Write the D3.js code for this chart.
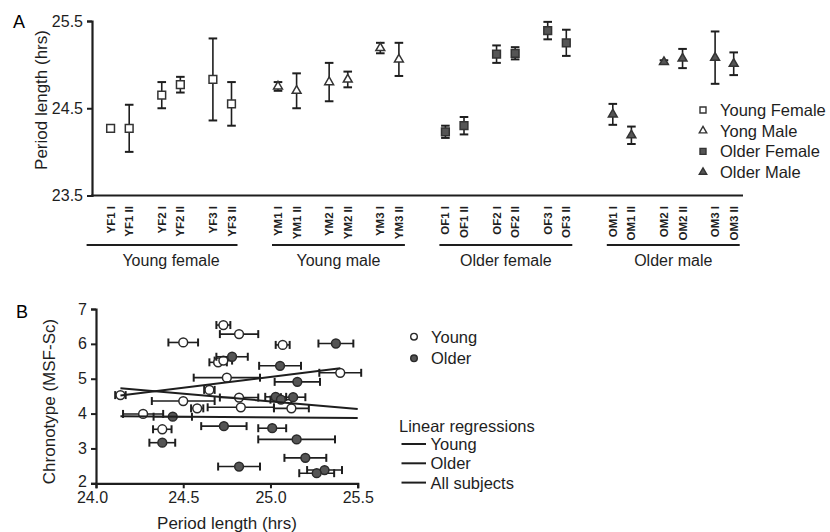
<!DOCTYPE html>
<html>
<head>
<meta charset="utf-8">
<script src="https://cdn.jsdelivr.net/npm/d3@7"></script>
<style>
  body { margin: 0; background: #fff; }
  svg { display: block; font-family: "Liberation Sans", Arial, sans-serif; }
</style>
</head>
<body>
<svg id="chart" width="830" height="532"></svg>
<script>
// ---- panel A data ----
var groups = ["Young female", "Young male", "Older female", "Older male"];
var conditions = [
  "YF1 I", "YF1 II", "YF2 I", "YF2 II", "YF3 I", "YF3 II",
  "YM1 I", "YM1 II", "YM2 I", "YM2 II", "YM3 I", "YM3 II",
  "OF1 I", "OF1 II", "OF2 I", "OF2 II", "OF3 I", "OF3 II",
  "OM1 I", "OM1 II", "OM2 I", "OM2 II", "OM3 I", "OM3 II"
];
var periodMean = [
  24.27, 24.27, 24.65, 24.77, 24.83, 24.55,
  24.75, 24.70, 24.80, 24.83, 25.19, 25.06,
  24.23, 24.30, 25.12, 25.13, 25.39, 25.25,
  24.43, 24.19, 25.03, 25.07, 25.08, 25.01
];
var periodErr = [
  0.01, 0.27, 0.15, 0.09, 0.47, 0.25,
  0.05, 0.20, 0.22, 0.09, 0.06, 0.19,
  0.07, 0.10, 0.10, 0.07, 0.10, 0.15,
  0.12, 0.10, 0.02, 0.11, 0.30, 0.13
];
var legendA = ["Young Female", "Yong Male", "Older Female", "Older Male"];
var yTicksA = [23.5, 24.5, 25.5];

// ---- panel B data ----
var youngPeriod = [24.73, 24.82, 24.50, 25.07, 24.70, 24.73, 25.40, 24.75, 24.65, 24.14, 24.50, 24.82, 24.58, 24.83, 25.12, 24.27, 24.38];
var youngPeriodErr = [0.04, 0.11, 0.085, 0.04, 0.05, 0.05, 0.12, 0.19, 0.03, 0.03, 0.18, 0.11, 0.035, 0.19, 0.10, 0.115, 0.053];
var youngChrono = [6.54, 6.28, 6.04, 5.97, 5.47, 5.52, 5.17, 5.03, 4.68, 4.53, 4.36, 4.46, 4.15, 4.18, 4.15, 3.99, 3.55];

var olderPeriod = [25.375, 24.78, 25.055, 25.154, 25.03, 25.13, 25.06, 24.44, 24.38, 24.733, 24.82, 25.01, 25.15, 25.20, 25.31, 25.265];
var olderPeriodErr = [0.10, 0.09, 0.12, 0.13, 0.06, 0.07, 0.06, 0.11, 0.074, 0.13, 0.12, 0.08, 0.22, 0.12, 0.10, 0.10];
var olderChrono = [6.01, 5.63, 5.37, 4.91, 4.48, 4.47, 4.40, 3.91, 3.165, 3.64, 2.48, 3.58, 3.26, 2.73, 2.38, 2.29];

var regYoungX = [24.14, 25.40], regYoungY = [4.52, 5.30];
var regOlderX = [24.14, 25.50], regOlderY = [4.73, 4.13];
var regAllX = [24.14, 25.50], regAllY = [3.92, 3.87];

var xTicksB = [24.0, 24.5, 25.0, 25.5];
var yTicksB = [2, 3, 4, 5, 6, 7];
var legendB = ["Young", "Older"];
var legendReg = ["Young", "Older", "All subjects"];

var ink = "#1e1e1e", fillDark = "#555";
var svg = d3.select("#chart");

function fmt1(d) { return d3.format(".1f")(d); }

// ================= panel A =================
var xA = d3.scaleLinear().domain([-1, 34]).range([92, 743]);
var yA = d3.scaleLinear().domain([23.5, 25.5]).range([195.5, 21]);

// slot position of a condition: group, pair, repeat
function slot(i) {
  var g = Math.floor(i / 6), p = Math.floor((i % 6) / 2), r = i % 2;
  return g * 9 + p * 2.75 + r;
}

var gA = svg.append("g");

gA.append("text").attr("x", 13).attr("y", 28).attr("font-size", 18).text("A");

// y axis
var yAxisA = d3.axisLeft(yA).tickValues(yTicksA).tickFormat(fmt1).tickSize(5).tickPadding(4);
var ya = gA.append("g").attr("transform", "translate(92,0)").call(yAxisA);
ya.select(".domain").attr("stroke", ink).attr("stroke-width", 2.2);
ya.selectAll(".tick line").attr("stroke", ink).attr("stroke-width", 2);
ya.selectAll(".tick text").attr("font-size", 16).attr("fill", ink).attr("font-family", null);

// x axis baseline
gA.append("line").attr("x1", 91).attr("x2", xA.range()[1]).attr("y1", 195.5).attr("y2", 195.5)
  .attr("stroke", ink).attr("stroke-width", 2.2);

gA.append("text")
  .attr("transform", "translate(47,100) rotate(-90)")
  .attr("text-anchor", "middle").attr("font-size", 17).attr("fill", ink)
  .text("Period length (hrs)");

// condition labels
gA.selectAll(".cond").data(conditions).enter().append("text")
  .attr("class", "cond")
  .attr("transform", function(d, i) { return "translate(" + (xA(slot(i)) + 4) + ",206) rotate(-90)"; })
  .attr("text-anchor", "end").attr("font-size", 11.5).attr("font-weight", "bold").attr("fill", ink)
  .text(function(d) { return d; });

// group underlines and names
groups.forEach(function(name, g) {
  var x0 = xA(slot(g * 6)), x1 = xA(slot(g * 6 + 5));
  gA.append("line").attr("x1", x0 - (g === 0 ? 24 : 6)).attr("x2", x1 + 6).attr("y1", 245).attr("y2", 245)
    .attr("stroke", ink).attr("stroke-width", 2);
  gA.append("text").attr("x", (x0 + x1) / 2).attr("y", 266).attr("text-anchor", "middle")
    .attr("font-size", 16).attr("fill", ink).text(name);
});

// error bars
var ebA = gA.selectAll(".ebA").data(conditions).enter().append("g").attr("class", "ebA");
ebA.append("line")
  .attr("x1", function(d, i) { return xA(slot(i)); })
  .attr("x2", function(d, i) { return xA(slot(i)); })
  .attr("y1", function(d, i) { return yA(periodMean[i] + periodErr[i]); })
  .attr("y2", function(d, i) { return yA(periodMean[i] - periodErr[i]); })
  .attr("stroke", ink).attr("stroke-width", 1.6);
[1, -1].forEach(function(s) {
  ebA.append("line")
    .attr("x1", function(d, i) { return xA(slot(i)) - 4.3; })
    .attr("x2", function(d, i) { return xA(slot(i)) + 4.3; })
    .attr("y1", function(d, i) { return yA(periodMean[i] + s * periodErr[i]); })
    .attr("y2", function(d, i) { return yA(periodMean[i] + s * periodErr[i]); })
    .attr("stroke", ink).attr("stroke-width", 2);
});

var sq = d3.symbol().type(d3.symbolSquare).size(60);
var tri = d3.symbol().type(d3.symbolTriangle).size(34);
function markerPath(g) { return (g % 2 === 0) ? sq() : tri(); }
function markerFill(g) { return g < 2 ? "#fff" : fillDark; }

gA.selectAll(".mkA").data(conditions).enter().append("path")
  .attr("class", "mkA")
  .attr("transform", function(d, i) { return "translate(" + xA(slot(i)) + "," + yA(periodMean[i]) + ")"; })
  .attr("d", function(d, i) { return markerPath(Math.floor(i / 6)); })
  .attr("fill", function(d, i) { return markerFill(Math.floor(i / 6)); })
  .attr("stroke", "#333").attr("stroke-width", 1.5);

// legend A
var sqS = d3.symbol().type(d3.symbolSquare).size(36);
var triS = d3.symbol().type(d3.symbolTriangle).size(24);
var legA = gA.selectAll(".legA").data(legendA).enter().append("g")
  .attr("class", "legA")
  .attr("transform", function(d, i) { return "translate(703," + (110 + i * 20.7) + ")"; });
legA.append("path")
  .attr("d", function(d, i) { return i % 2 === 0 ? sqS() : triS(); })
  .attr("fill", function(d, i) { return markerFill(i); })
  .attr("stroke", "#333").attr("stroke-width", 1.4);
legA.append("text").attr("x", 17).attr("y", 6).attr("font-size", 16.5).attr("fill", ink)
  .text(function(d) { return d; });

// ================= panel B =================
var xB = d3.scaleLinear().domain([24, 25.5]).range([96, 357.7]);
var yB = d3.scaleLinear().domain([2, 7]).range([483.3, 309]);
var gB = svg.append("g");

gB.append("text").attr("x", 16).attr("y", 318).attr("font-size", 18).text("B");

var xAxisB = d3.axisBottom(xB).tickValues(xTicksB).tickFormat(fmt1).tickSize(5).tickPadding(3);
var xb = gB.append("g").attr("transform", "translate(0,483.3)").call(xAxisB);
var yAxisB = d3.axisLeft(yB).tickValues(yTicksB).tickFormat(d3.format("d")).tickSize(5).tickPadding(4);
var yb = gB.append("g").attr("transform", "translate(96,0)").call(yAxisB);
[xb, yb].forEach(function(ax) {
  ax.select(".domain").attr("stroke", ink).attr("stroke-width", 2.2);
  ax.selectAll(".tick line").attr("stroke", ink).attr("stroke-width", 2);
  ax.selectAll(".tick text").attr("font-size", 16).attr("fill", ink).attr("font-family", null);
});
// first x label sits a little left of its tick, bottom y label a little up
xb.selectAll(".tick text").filter(function(d) { return d === 24; }).attr("dx", -4);
yb.selectAll(".tick text").filter(function(d) { return d === 2; }).attr("dy", "0.22em");

gB.append("text").attr("x", 227).attr("y", 528.5).attr("text-anchor", "middle")
  .attr("font-size", 17).attr("fill", ink).text("Period length (hrs)");
gB.append("text")
  .attr("transform", "translate(54.5,401.5) rotate(-90)")
  .attr("text-anchor", "middle").attr("font-size", 17).attr("fill", ink)
  .text("Chronotype (MSF-Sc)");

function drawSeries(px, pe, cy) {
  var s = gB.append("g");
  var eb = s.selectAll(".eb").data(px).enter().append("g");
  eb.append("line")
    .attr("x1", function(d, i) { return xB(d - pe[i]); })
    .attr("x2", function(d, i) { return xB(d + pe[i]); })
    .attr("y1", function(d, i) { return yB(cy[i]); })
    .attr("y2", function(d, i) { return yB(cy[i]); })
    .attr("stroke", ink).attr("stroke-width", 1.6);
  [1, -1].forEach(function(sg) {
    eb.append("line")
      .attr("x1", function(d, i) { return xB(d + sg * pe[i]); })
      .attr("x2", function(d, i) { return xB(d + sg * pe[i]); })
      .attr("y1", function(d, i) { return yB(cy[i]) - 4; })
      .attr("y2", function(d, i) { return yB(cy[i]) + 4; })
      .attr("stroke", ink).attr("stroke-width", 2);
  });
  return s;
}
function drawDots(s, px, cy, fill) {
  s.selectAll(".dot").data(px).enter().append("circle")
    .attr("cx", function(d) { return xB(d); })
    .attr("cy", function(d, i) { return yB(cy[i]); })
    .attr("r", 4.4)
    .attr("fill", fill).attr("stroke", "#2a2a2a").attr("stroke-width", 1.5);
}

var sy = drawSeries(youngPeriod, youngPeriodErr, youngChrono);
var so = drawSeries(olderPeriod, olderPeriodErr, olderChrono);

// regression lines
var line = d3.line().x(function(d) { return xB(d[0]); }).y(function(d) { return yB(d[1]); });
[[regYoungX, regYoungY], [regOlderX, regOlderY], [regAllX, regAllY]].forEach(function(r) {
  gB.append("path").attr("d", line(d3.zip(r[0], r[1])))
    .attr("fill", "none").attr("stroke", ink).attr("stroke-width", 2);
});

drawDots(sy, youngPeriod, youngChrono, "#fff");
drawDots(so, olderPeriod, olderChrono, fillDark);

// legend B
var legB = gB.selectAll(".legB").data(legendB).enter().append("g")
  .attr("transform", function(d, i) { return "translate(414," + (336.7 + i * 21.6) + ")"; });
legB.append("circle").attr("r", 3.3)
  .attr("fill", function(d, i) { return i === 0 ? "#fff" : fillDark; })
  .attr("stroke", "#2a2a2a").attr("stroke-width", 1.4);
legB.append("text").attr("x", 17).attr("y", 6).attr("font-size", 16.5).attr("fill", ink)
  .text(function(d) { return d; });

gB.append("text").attr("x", 399).attr("y", 432).attr("font-size", 16.5).attr("fill", ink)
  .text("Linear regressions");
var legR = gB.selectAll(".legR").data(legendReg).enter().append("g")
  .attr("transform", function(d, i) { return "translate(401.5," + (444 + i * 19.3) + ")"; });
legR.append("line").attr("x1", 0).attr("x2", 24.5).attr("y1", 0).attr("y2", 0)
  .attr("stroke", ink).attr("stroke-width", 2);
legR.append("text").attr("x", 29).attr("y", 6).attr("font-size", 16.5).attr("fill", ink)
  .text(function(d) { return d; });
</script>
</body>
</html>
